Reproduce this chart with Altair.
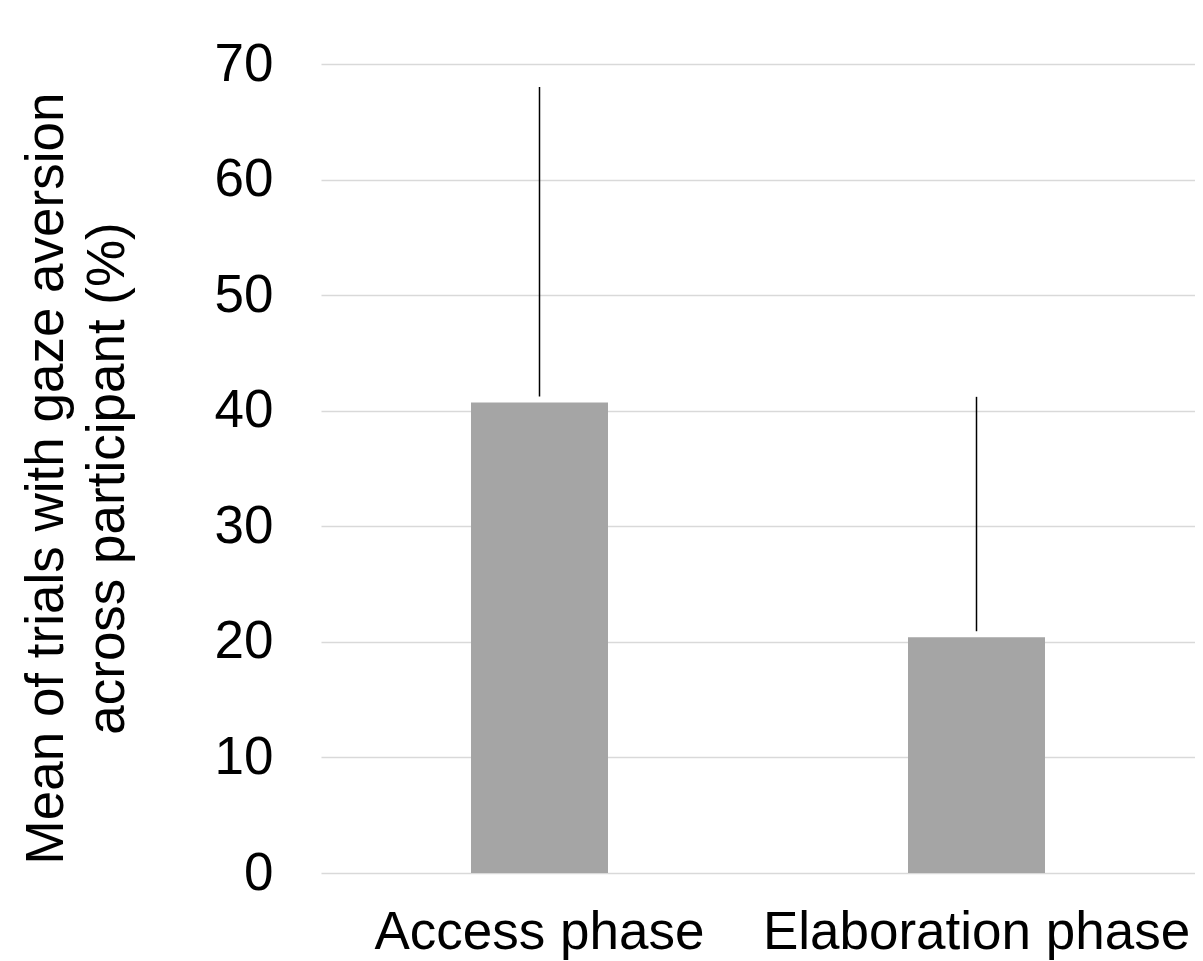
import altair as alt
import pandas as pd

phases = ["Access phase", "Elaboration phase"]
means = [40.7, 20.4]
uppers = [68.0, 41.2]
y_ticks = [0, 10, 20, 30, 40, 50, 60, 70]

df = pd.DataFrame({"phase": phases, "mean": means, "upper": uppers})

FONT = "Liberation Sans"

x_enc = alt.X(
    "phase:N",
    sort=phases,
    scale=alt.Scale(paddingInner=0, paddingOuter=0),
    axis=alt.Axis(
        title=None, labelAngle=0, domain=False, ticks=False,
        labelFontSize=53, labelFont=FONT, labelColor="black",
        labelPadding=33, labelLimit=600,
    ),
)

bars = alt.Chart(df).mark_bar(size=137, color="#a5a5a5").encode(
    x=x_enc,
    y=alt.Y(
        "mean:Q",
        scale=alt.Scale(domain=[0, 70], nice=False),
        axis=alt.Axis(
            values=y_ticks,
            title=["Mean of trials with gaze aversion", "across participant (%)"],
            titleFont=FONT, titleFontSize=53, titleFontWeight="normal",
            titleColor="black", titleLineHeight=61,
            titleX=-248, titleY=414,
            labelFont=FONT, labelFontSize=53, labelColor="black",
            labelPadding=48, ticks=False, domain=False,
            grid=True, gridColor="#d9d9d9", gridWidth=1.7,
        ),
    ),
)

err = alt.Chart(df).mark_rule(color="black", strokeWidth=1.5, yOffset=-6).encode(
    x=alt.X("phase:N", sort=phases),
    y="mean:Q",
    y2="upper:Q",
)

chart = (
    alt.layer(bars, err)
    .properties(
        width=874, height=809,
        autosize=alt.AutoSizeParams(type="none"),
        padding={"left": 313, "top": 56, "right": 0, "bottom": 88},
    )
    .configure_view(stroke=None)
)

chart.save("out.html", embed_options={"renderer": "svg", "actions": False})
